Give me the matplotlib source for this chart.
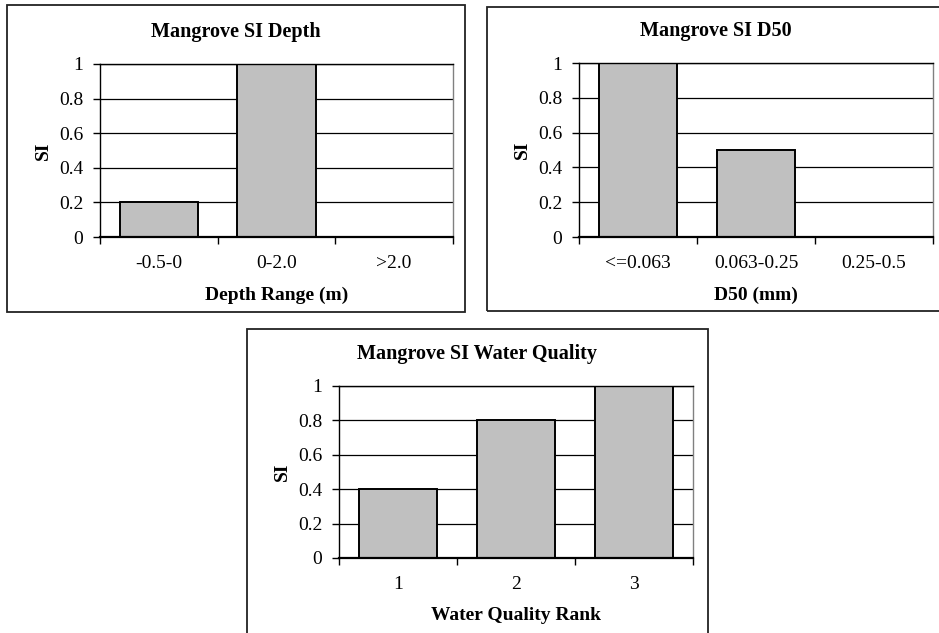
import matplotlib
matplotlib.use("Agg")
import matplotlib.pyplot as plt
from matplotlib.patches import Rectangle

# Données des trois graphiques
depth_cats = ["-0.5-0", "0-2.0", ">2.0"]
depth_si = [0.2, 1.0, 0.0]

d50_cats = ["<=0.063", "0.063-0.25", "0.25-0.5"]
d50_si = [1.0, 0.5, 0.0]

wq_cats = ["1", "2", "3"]
wq_si = [0.4, 0.8, 1.0]

y_ticks = [0, 0.2, 0.4, 0.6, 0.8, 1]
y_tick_labels = ["0", "0.2", "0.4", "0.6", "0.8", "1"]

plt.rcParams["font.family"] = ["Liberation Serif", "DejaVu Serif"]

W, H = 939, 633
fig = plt.figure(figsize=(W / 100, H / 100), dpi=100)


def px_rect(left, top, right, bottom):
    return [left / W, (H - bottom) / H, (right - left) / W, (bottom - top) / H]


def draw_box(left, top, right, bottom):
    fig.patches.append(Rectangle((left / W, (H - bottom) / H),
                                 (right - left) / W, (bottom - top) / H,
                                 transform=fig.transFigure, fill=False,
                                 edgecolor="#222222", linewidth=1.3))


def panel(rect, box, cats, vals, title, xlabel):
    draw_box(*box)
    ax = fig.add_axes(px_rect(*rect))
    x = list(range(len(cats)))
    ax.bar(x, vals, width=0.667, color="#c0c0c0", edgecolor="black",
           linewidth=1.4, zorder=2)
    ax.set_xlim(-0.5, len(cats) - 0.5)
    ax.set_ylim(0, 1)

    # gridlines
    for yv in y_ticks[1:]:
        ax.axhline(yv, color="black", linewidth=0.9, zorder=1)

    ax.set_yticks(y_ticks, y_tick_labels)
    ax.set_xticks([i - 0.5 for i in range(len(cats) + 1)], [""] * (len(cats) + 1))
    ax.set_xticks(x, cats, minor=True)
    ax.tick_params(axis="x", which="major", direction="out", length=5, width=1)
    ax.tick_params(axis="x", which="minor", length=0, pad=13, labelsize=14)
    ax.tick_params(axis="y", direction="out", length=5, width=1, pad=7, labelsize=14)

    for s in ["left", "bottom", "top"]:
        ax.spines[s].set_color("black")
        ax.spines[s].set_linewidth(1)
        ax.spines[s].set_zorder(4)
    ax.spines["bottom"].set_linewidth(1.6)
    ax.spines["right"].set_color("#808080")
    ax.spines["right"].set_linewidth(1)

    l, t, r, b = rect
    bl, bt, br, bb = box
    fig.text(((bl + br) / 2) / W, 1 - (t - 32) / H, title, ha="center",
             va="center", fontsize=14.5, fontweight="bold")
    fig.text(((l + r) / 2) / W, 1 - (b + 58) / H, xlabel, ha="center",
             va="center", fontsize=14, fontweight="bold")
    fig.text((l - 57) / W, 1 - ((t + b) / 2) / H, "SI", ha="center",
             va="center", rotation=90, fontsize=14, fontweight="bold")
    return ax


panel((100, 64, 453, 237), (7, 5, 465, 312), depth_cats, depth_si,
      "Mangrove SI Depth", "Depth Range (m)")
panel((579, 63, 933, 237), (487, 7, 945, 311), d50_cats, d50_si,
      "Mangrove SI D50", "D50 (mm)")
panel((339, 386, 693, 558), (247, 329, 708, 650), wq_cats, wq_si,
      "Mangrove SI Water Quality", "Water Quality Rank")

fig.savefig("out.png", dpi=100)
